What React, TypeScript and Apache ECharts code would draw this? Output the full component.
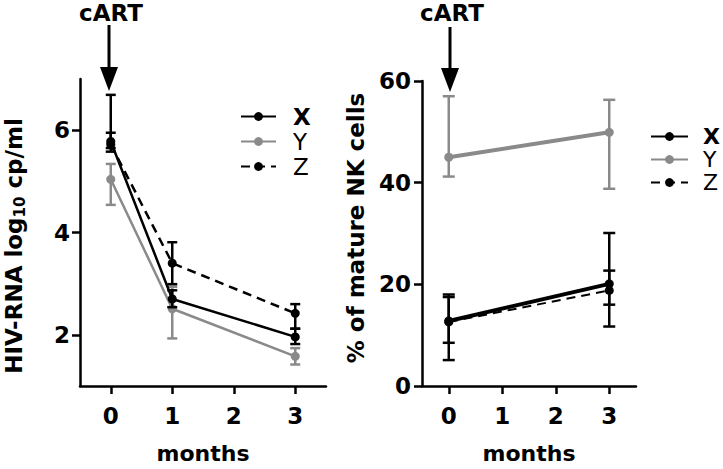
import React, { useEffect, useRef } from 'react';
import * as echarts from 'echarts';

// ---------- data ----------
const monthTicks = [0, 1, 2, 3];
const hivTicks = [2, 4, 6];

const hivMonths = [0, 1, 3];
const hivX = [5.78, 2.7, 1.96];
const hivXLow = [5.58, 2.54, 1.82];
const hivXHigh = [6.69, 2.87, 2.12];
const hivY = [5.04, 2.51, 1.58];
const hivYLow = [4.54, 1.93, 1.42];
const hivYHigh = [5.34, 2.94, 1.74];
const hivZ = [5.72, 3.4, 2.42];
const hivZLow = [5.65, 2.99, 2.12];
const hivZHigh = [5.95, 3.81, 2.6];

const nkMonths = [0, 3];
const nkX = [12.8, 20.1];
const nkXLow = [5.1, 11.7];
const nkXHigh = [18.0, 30.1];
const nkY = [45.0, 49.9];
const nkYLow = [41.2, 38.8];
const nkYHigh = [57.0, 56.3];
const nkZ = [12.6, 18.8];
const nkZLow = [8.5, 16.0];
const nkZHigh = [17.5, 22.7];

const legendNames = ['X', 'Y', 'Z'];

// ---------- style ----------
const FONT = 'DejaVu Sans';
const BLACK = '#000000';
const GRAY = '#8a8a8a';

function lineSeries(name: string, xs: number[], ys: number[], color: string, grid: number, width: number, dashed: boolean, z: number) {
  return {
    type: 'line',
    name,
    xAxisIndex: grid,
    yAxisIndex: grid,
    data: xs.map((x, i) => [x, ys[i]]),
    symbol: 'circle',
    symbolSize: 9,
    itemStyle: { color },
    lineStyle: { color, width, type: dashed ? [9, 6] : 'solid' },
    z,
    silent: true,
  };
}

function errSeries(name: string, xs: number[], lo: number[], hi: number[], color: string, grid: number, capW: number, lw: number, z: number) {
  return {
    type: 'custom',
    name,
    xAxisIndex: grid,
    yAxisIndex: grid,
    data: xs.map((x, i) => [x, lo[i], hi[i]]),
    encode: { x: 0, y: [1, 2] },
    z,
    silent: true,
    renderItem: (params: any, api: any) => {
      const x = api.value(0);
      const pLo = api.coord([x, api.value(1)]);
      const pHi = api.coord([x, api.value(2)]);
      const w = capW / 2;
      const style = { stroke: color, lineWidth: lw };
      return {
        type: 'group',
        children: [
          { type: 'line', shape: { x1: pLo[0], y1: pLo[1], x2: pHi[0], y2: pHi[1] }, style },
          { type: 'line', shape: { x1: pLo[0] - w, y1: pLo[1], x2: pLo[0] + w, y2: pLo[1] }, style },
          { type: 'line', shape: { x1: pHi[0] - w, y1: pHi[1], x2: pHi[0] + w, y2: pHi[1] }, style },
        ],
      };
    },
  };
}

const tickText = { fontSize: 23, fontWeight: 'bold', fontFamily: FONT, color: BLACK };
const nameText = { fontSize: 22, fontWeight: 'bold', fontFamily: FONT, color: BLACK };

function xAxis(grid: number) {
  return {
    type: 'value',
    gridIndex: grid,
    min: -0.5,
    max: 3.5,
    axisLine: { show: true, onZero: false, lineStyle: { color: BLACK, width: 2.5 } },
    axisTick: { show: true, customValues: monthTicks, length: 8, lineStyle: { color: BLACK, width: 2.5 } },
    axisLabel: { customValues: monthTicks, margin: 18, ...tickText },
    splitLine: { show: false },
    name: 'months',
    nameLocation: 'middle',
    nameGap: 56,
    nameTextStyle: { ...nameText },
  };
}

export default function App() {
  const ref = useRef<HTMLDivElement>(null);

  useEffect(() => {
    if (!ref.current) return;
    const chart = echarts.init(ref.current, undefined, { renderer: 'svg' });

    const option: any = {
      animation: false,
      backgroundColor: '#ffffff',
      grid: [
        { left: 80, top: 79, width: 246, height: 312 },
        { left: 422, top: 81, width: 214, height: 311 },
      ],
      xAxis: [xAxis(0), xAxis(1)],
      yAxis: [
        {
          type: 'value',
          gridIndex: 0,
          min: 1,
          max: 7,
          axisLine: { show: true, onZero: false, lineStyle: { color: BLACK, width: 2.5 } },
          axisTick: { show: true, customValues: hivTicks, length: 8, lineStyle: { color: BLACK, width: 2.5 } },
          axisLabel: { customValues: hivTicks, margin: 10, ...tickText },
          splitLine: { show: false },
        },
        {
          type: 'value',
          gridIndex: 1,
          min: 0,
          max: 60,
          interval: 20,
          axisLine: { show: true, onZero: false, lineStyle: { color: BLACK, width: 2.5 } },
          axisTick: { show: true, length: 8, lineStyle: { color: BLACK, width: 2.5 } },
          axisLabel: { margin: 11, ...tickText },
          splitLine: { show: false },
        },
      ],
      legend: [
        {
          orient: 'vertical',
          left: 240,
          top: 104,
          padding: 0,
          itemWidth: 35,
          itemHeight: 11,
          itemGap: 0,
          selectedMode: false,
          data: [
            { name: legendNames[0], textStyle: { fontWeight: 'bold' } },
            { name: legendNames[1] },
            { name: legendNames[2] },
          ],
          textStyle: { fontSize: 23, fontFamily: FONT, color: BLACK, lineHeight: 25, padding: [0, 0, 0, 12] },
        },
        {
          orient: 'vertical',
          left: 650,
          top: 125,
          padding: 0,
          itemWidth: 37,
          itemHeight: 11,
          itemGap: 0,
          selectedMode: false,
          formatter: (n: string) => n.trim(),
          data: [
            { name: legendNames[0] + ' ', textStyle: { fontWeight: 'bold' } },
            { name: legendNames[1] + ' ' },
            { name: legendNames[2] + ' ' },
          ],
          textStyle: { fontSize: 22, fontFamily: FONT, color: BLACK, lineHeight: 23, padding: [0, 0, 0, 10] },
        },
      ],
      series: [
        // left panel
        errSeries('Y err', hivMonths, hivYLow, hivYHigh, GRAY, 0, 10, 2.5, 2),
        lineSeries('Y', hivMonths, hivY, GRAY, 0, 2.5, false, 3),
        errSeries('Z err', hivMonths, hivZLow, hivZHigh, BLACK, 0, 10, 2.5, 4),
        lineSeries('Z', hivMonths, hivZ, BLACK, 0, 2.5, true, 5),
        errSeries('X err', hivMonths, hivXLow, hivXHigh, BLACK, 0, 10, 2.5, 4),
        lineSeries('X', hivMonths, hivX, BLACK, 0, 2.5, false, 5),
        // right panel
        errSeries('Y err2', nkMonths, nkYLow, nkYHigh, GRAY, 1, 12, 2.5, 2),
        lineSeries('Y ', nkMonths, nkY, GRAY, 1, 4, false, 3),
        errSeries('Z err2', nkMonths, nkZLow, nkZHigh, BLACK, 1, 12, 2.5, 4),
        lineSeries('Z ', nkMonths, nkZ, BLACK, 1, 2, true, 5),
        errSeries('X err2', nkMonths, nkXLow, nkXHigh, BLACK, 1, 12, 2.5, 4),
        lineSeries('X ', nkMonths, nkX, BLACK, 1, 4, false, 5),
      ],
      graphic: [
        // cART annotation left
        {
          type: 'text', x: 111, y: 13,
          style: { text: 'cART', fontSize: 23, fontWeight: 'bold', fontFamily: FONT, fill: BLACK, align: 'center', verticalAlign: 'middle' },
        },
        { type: 'line', shape: { x1: 109, y1: 25, x2: 109, y2: 70 }, style: { stroke: BLACK, lineWidth: 3 } },
        { type: 'polygon', shape: { points: [[100, 67], [118, 67], [109, 91]] }, style: { fill: BLACK } },
        // cART annotation right
        {
          type: 'text', x: 452, y: 13,
          style: { text: 'cART', fontSize: 23, fontWeight: 'bold', fontFamily: FONT, fill: BLACK, align: 'center', verticalAlign: 'middle' },
        },
        { type: 'line', shape: { x1: 450, y1: 27, x2: 450, y2: 71 }, style: { stroke: BLACK, lineWidth: 3 } },
        { type: 'polygon', shape: { points: [[441, 68], [459, 68], [450, 92]] }, style: { fill: BLACK } },
        // axis titles
        {
          type: 'text', x: 15, y: 246, rotation: Math.PI / 2,
          style: {
            text: '{a|HIV-RNA log}{s|10}{a| cp/ml}',
            align: 'center',
            verticalAlign: 'middle',
            fill: BLACK,
            rich: {
              a: { fontSize: 23, fontWeight: 'bold', fontFamily: FONT, fill: BLACK, verticalAlign: 'top' },
              s: { fontSize: 15, fontWeight: 'bold', fontFamily: FONT, fill: BLACK, verticalAlign: 'bottom', padding: [10, 0, 0, 0] },
            },
          },
        },
        {
          type: 'text', x: 356, y: 228, rotation: Math.PI / 2,
          style: { text: '% of mature NK cells', fontSize: 23, fontWeight: 'bold', fontFamily: FONT, fill: BLACK, align: 'center', verticalAlign: 'middle' },
        },
      ],
    };

    chart.setOption(option);
    return () => chart.dispose();
  }, []);

  return <div ref={ref} style={{ position: 'absolute', left: 0, top: 0, width: 723, height: 469 }} />;
}
